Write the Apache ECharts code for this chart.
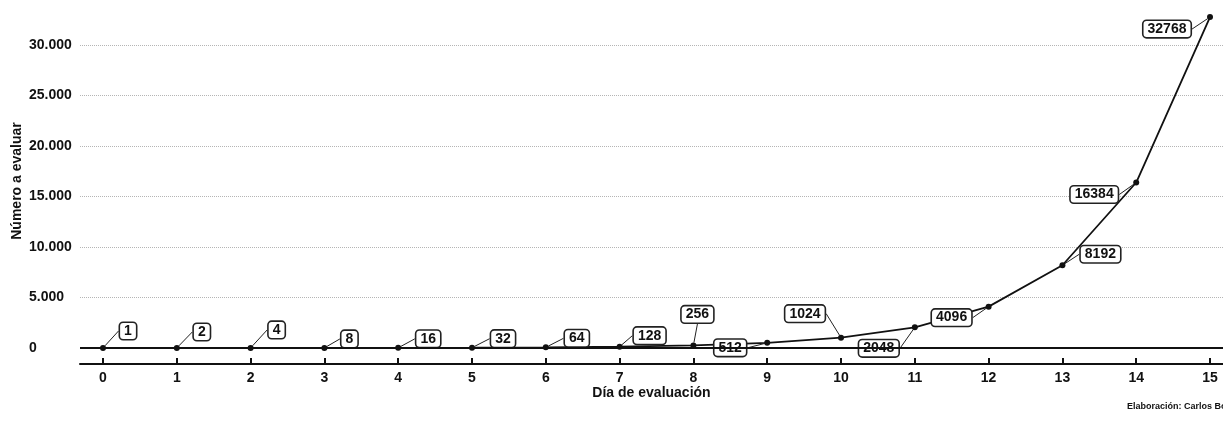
<!DOCTYPE html>
<html>
<head>
<meta charset="utf-8">
<script src="https://cdn.jsdelivr.net/npm/echarts@6/dist/echarts.min.js"></script>
<style>
html,body{margin:0;padding:0;background:#fff;}
#c{width:1223px;height:421px;}
</style>
</head>
<body>
<div id="c"></div>
<script>
// Data
const days = [0,1,2,3,4,5,6,7,8,9,10,11,12,13,14,15];
const values = [1,2,4,8,16,32,64,128,256,512,1024,2048,4096,8192,16384,32768];
const yTicks = [0,5000,10000,15000,20000,25000,30000];
const xTicks = [0,1,2,3,4,5,6,7,8,9,10,11,12,13,14,15];
// label offsets (px) relative to each point
const labelOffsets = [[25,-17],[25,-16],[26,-18],[25,-9],[30,-9],[31,-9],[31,-9],[30,-11],[4,-31],[-37,5],[-36,-24],[-36,21],[-37,11],[38,-11],[-42,12],[-43,12]];

const FONT = "'Liberation Sans', Arial, Helvetica, sans-serif";
const chart = echarts.init(document.getElementById('c'), null, {renderer:'canvas'});
chart.setOption({
  animation:false,
  backgroundColor:'#fff',
  grid:{left:80,right:0,top:10,bottom:57,containLabel:false,outerBoundsMode:'none'},
  xAxis:{
    type:'value', min:-0.3117, max:15.176,
    name:'Día de evaluación', nameLocation:'middle', nameGap:22, nameMoveOverlap:false,
    nameTextStyle:{fontFamily:FONT,fontSize:14,fontWeight:'bold',color:'#111'},
    axisLine:{show:true,onZero:false,lineStyle:{color:'#111',width:2}},
    axisTick:{show:true,inside:true,length:6,customValues:xTicks,lineStyle:{color:'#111',width:2}},
    axisLabel:{customValues:xTicks,margin:7,fontFamily:FONT,fontSize:14,fontWeight:'bold',color:'#111'},
    splitLine:{show:false}
  },
  yAxis:{
    type:'value', min:-1584, max:33465,
    name:'Número a evaluar', nameLocation:'middle', nameGap:56, nameRotate:90, nameMoveOverlap:false,
    nameTextStyle:{fontFamily:FONT,fontSize:14,fontWeight:'bold',color:'#111',padding:[0,0,0,12]},
    axisLine:{show:false},
    axisTick:{show:false,customValues:yTicks},
    axisLabel:{customValues:yTicks,margin:51,align:'left',fontFamily:FONT,fontSize:14,fontWeight:'bold',color:'#111',
      formatter:function(v){return String(v).replace(/\B(?=(\d{3})+(?!\d))/g,'.');}},
    splitLine:{show:true,lineStyle:{color:'#b5b5b5',type:'dotted',width:1}}
  },
  series:[{
    type:'line',
    data:days.map((d,i)=>[d,values[i]]),
    symbol:'circle', symbolSize:6,
    itemStyle:{color:'#111'},
    lineStyle:{color:'#111',width:1.8},
    label:{show:true,position:'inside',formatter:p=>String(p.value[1]),
      fontFamily:FONT,fontSize:14,fontWeight:'bold',color:'#111',lineHeight:15,
      backgroundColor:'#fff',borderColor:'#222',borderWidth:1.6,borderRadius:3,padding:[1,4,0,4]},
    labelLine:{show:true,length2:0,lineStyle:{color:'#222',width:1}},
    labelLayout:function(p){const o=labelOffsets[p.dataIndex];return {dx:o[0],dy:o[1]};},
    markLine:{silent:true,symbol:'none',label:{show:false},
      lineStyle:{color:'#111',width:2,type:'solid'},data:[{yAxis:0}]},
    z:3
  }],
  graphic:[{type:'text',left:1127,top:402,style:{text:'Elaboración: Carlos Bonilla',fontFamily:FONT,fontSize:9,fontWeight:'bold',fill:'#111'}}]
});
</script>
</body>
</html>
